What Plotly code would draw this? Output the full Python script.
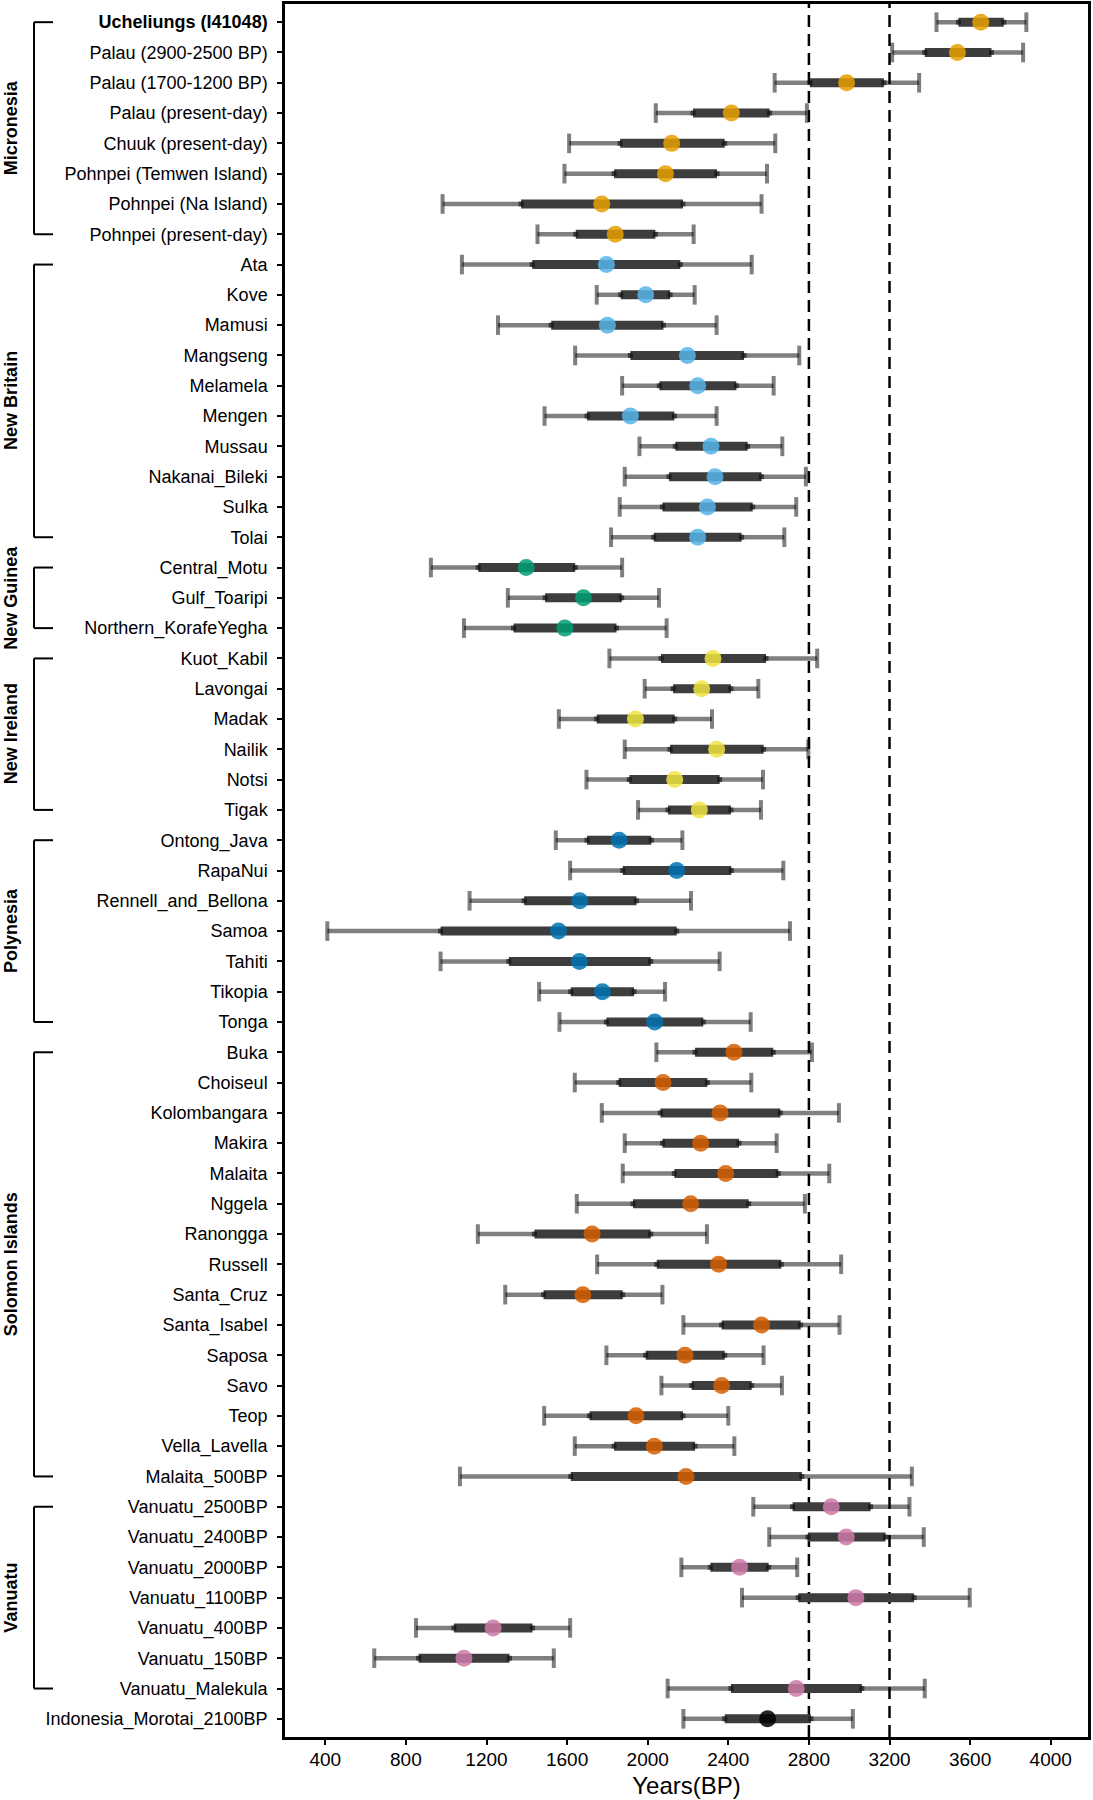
import plotly.graph_objects as go

# ---------------- data ----------------
populations = [
    "Ucheliungs (I41048)", "Palau (2900-2500 BP)", "Palau (1700-1200 BP)", "Palau (present-day)",
    "Chuuk (present-day)", "Pohnpei (Temwen Island)", "Pohnpei (Na Island)", "Pohnpei (present-day)",
    "Ata", "Kove", "Mamusi", "Mangseng", "Melamela", "Mengen", "Mussau", "Nakanai_Bileki", "Sulka", "Tolai",
    "Central_Motu", "Gulf_Toaripi", "Northern_KorafeYegha",
    "Kuot_Kabil", "Lavongai", "Madak", "Nailik", "Notsi", "Tigak",
    "Ontong_Java", "RapaNui", "Rennell_and_Bellona", "Samoa", "Tahiti", "Tikopia", "Tonga",
    "Buka", "Choiseul", "Kolombangara", "Makira", "Malaita", "Nggela", "Ranongga", "Russell",
    "Santa_Cruz", "Santa_Isabel", "Saposa", "Savo", "Teop", "Vella_Lavella", "Malaita_500BP",
    "Vanuatu_2500BP", "Vanuatu_2400BP", "Vanuatu_2000BP", "Vanuatu_1100BP", "Vanuatu_400BP",
    "Vanuatu_150BP", "Vanuatu_Malekula",
    "Indonesia_Morotai_2100BP",
]

whisker_lo = [3433, 3213, 2630, 2040, 1610, 1587, 982, 1453,
              1078, 1747, 1257, 1640, 1873, 1488, 1959, 1886, 1861, 1818,
              924, 1306, 1088,
              1810, 1985, 1559, 1886, 1696, 1952,
              1544, 1615, 1116, 410, 972, 1461, 1562,
              2043, 1638, 1772, 1886, 1876, 1648, 1157, 1749, 1293, 2177, 1795, 2068, 1486, 1638, 1068,
              2524, 2603, 2167, 2468, 850, 643, 2099,
              2177]
inner_lo = [3542, 3375, 2805, 2225, 1863, 1833, 1372, 1643,
            1427, 1866, 1521, 1914, 2058, 1699, 2137, 2106, 2073, 2030,
            1159, 1491, 1334,
            2066, 2126, 1747, 2111, 1909, 2101,
            1699, 1876, 1387, 972, 1311, 1618, 1795,
            2235, 1856, 2063, 2073, 2132, 1927, 1438, 2045, 1483, 2367, 1990, 2218, 1711, 1833, 1618,
            2719, 2795, 2311, 2747, 1038, 863, 2413,
            2382]
estimate = [3653, 3537, 2987, 2415, 2119, 2088, 1772, 1839,
            1795, 1990, 1800, 2197, 2248, 1914, 2314, 2334, 2296, 2248,
            1397, 1681, 1589,
            2324, 2268, 1939, 2342, 2134, 2256,
            1858, 2144, 1663, 1557, 1661, 1775, 2035,
            2428, 2076, 2359, 2263, 2387, 2213, 1724, 2352, 1678, 2565, 2185, 2367, 1942, 2033, 2190,
            2911, 2985, 2456, 3033, 1233, 1088, 2737,
            2595]
inner_hi = [3767, 3706, 3172, 2605, 2382, 2344, 2175, 2038,
            2162, 2111, 2078, 2478, 2440, 2132, 2496, 2565, 2521, 2466,
            1640, 1871, 1845,
            2587, 2413, 2134, 2575, 2357, 2413,
            2018, 2415, 1944, 2144, 2015, 1932, 2276,
            2623, 2296, 2658, 2453, 2648, 2501, 2015, 2663, 1876, 2759, 2382, 2516, 2175, 2235, 2765,
            3106, 3180, 2600, 3322, 1428, 1314, 3063,
            2810]
whisker_hi = [3879, 3863, 3347, 2790, 2633, 2592, 2565, 2228,
              2516, 2233, 2342, 2752, 2625, 2342, 2668, 2785, 2737, 2678,
              1873, 2056, 2094,
              2841, 2549, 2319, 2797, 2572, 2562,
              2172, 2673, 2215, 2706, 2357, 2086, 2511,
              2815, 2514, 2949, 2640, 2901, 2780, 2294, 2960, 2073, 2952, 2575, 2666, 2400, 2430, 3311,
              3299, 3370, 2742, 3598, 1615, 1534, 3375,
              3018]

region_names = ["Micronesia", "New Britain", "New Guinea", "New Ireland",
                "Polynesia", "Solomon Islands", "Vanuatu"]
region_sizes = [8, 10, 3, 6, 7, 15, 7]
region_colors = ["#E69F00", "#56B4E9", "#009E73", "#F0E442",
                 "#0072B2", "#D55E00", "#CC79A7"]
outgroup_color = "#000000"

x_ticks = [400, 800, 1200, 1600, 2000, 2400, 2800, 3200, 3600, 4000]
ref_lines = [2800, 3200]
x_title = "Years(BP)"

# ---------------- derived ----------------
row_colors = []
for c, n in zip(region_colors, region_sizes):
    row_colors += [c] * n
row_colors += [outgroup_color] * (len(populations) - len(row_colors))


def segments(a, b):
    xs, ys = [], []
    for p, lo, hi in zip(populations, a, b):
        xs += [lo, hi, None]
        ys += [p, p, None]
    return xs, ys


FONT = "Liberation Sans, Arial, Helvetica, sans-serif"

fig = go.Figure()

ox, oy = segments(whisker_lo, whisker_hi)
fig.add_trace(go.Scatter(x=ox, y=oy, mode="lines",
                         line=dict(color="rgba(0,0,0,0.5)", width=4.5),
                         hoverinfo="skip"))
fig.add_trace(go.Scatter(x=whisker_lo + whisker_hi, y=populations + populations,
                         mode="markers",
                         marker=dict(symbol="line-ns", size=14,
                                     line=dict(color="rgba(0,0,0,0.5)", width=4)),
                         hoverinfo="skip"))
ix, iy = segments(inner_lo, inner_hi)
fig.add_trace(go.Scatter(x=ix, y=iy, mode="lines",
                         line=dict(color="#3d3d3d", width=9),
                         hoverinfo="skip"))
fig.add_trace(go.Scatter(x=inner_lo + inner_hi, y=populations + populations,
                         mode="markers",
                         marker=dict(symbol="square", size=5, color="rgba(0,0,0,0.55)",
                                     line=dict(width=0)),
                         hoverinfo="skip"))
fig.add_trace(go.Scatter(x=estimate, y=populations, mode="markers",
                         marker=dict(symbol="circle", size=17, color=row_colors,
                                     opacity=0.85, line=dict(width=0)),
                         hoverinfo="skip"))

for v in ref_lines:
    fig.add_shape(type="line", xref="x", yref="paper", x0=v, x1=v, y0=0, y1=1,
                  line=dict(color="black", width=2.5, dash="12px,7px"), layer="below")

# region brackets and labels
plot_left, plot_w = 285, 803
bx = (34 - plot_left) / plot_w
bx2 = (53 - plot_left) / plot_w
lx = (11 - plot_left) / plot_w
start = 0
for name, n in zip(region_names, region_sizes):
    first, last = populations[start], populations[start + n - 1]
    line = dict(color="black", width=2)
    fig.add_shape(type="line", xref="paper", yref="y", x0=bx, x1=bx, y0=first, y1=last, line=line)
    fig.add_shape(type="line", xref="paper", yref="y", x0=bx, x1=bx2, y0=first, y1=first, line=line)
    fig.add_shape(type="line", xref="paper", yref="y", x0=bx, x1=bx2, y0=last, y1=last, line=line)
    fig.add_annotation(xref="paper", yref="y", x=lx, y=start + (n - 1) / 2,
                       text="<b>%s</b>" % name, textangle=-90, showarrow=False,
                       xanchor="center", yanchor="middle",
                       font=dict(family=FONT, size=18, color="black"))
    start += n

ticktext = ["<b>%s</b>" % populations[0]] + populations[1:]

fig.update_layout(
    width=1093, height=1800,
    margin=dict(l=285, r=5, t=4, b=63),
    paper_bgcolor="white", plot_bgcolor="white",
    showlegend=False,
    font=dict(family=FONT, color="black"),
    xaxis=dict(range=[200, 4185], tickvals=x_ticks, ticks="outside", ticklen=5,
               tickwidth=2, tickcolor="black", showline=True, linewidth=2.5,
               linecolor="black", mirror=True, showgrid=False, zeroline=False,
               tickfont=dict(family=FONT, size=19, color="black"),
               ticklabelstandoff=-2,
               title=dict(text=x_title, font=dict(family=FONT, size=24, color="black"),
                          standoff=9),
               automargin=False),
    yaxis=dict(type="category", categoryorder="array", categoryarray=populations,
               range=[len(populations) - 0.4, -0.6],
               tickvals=populations, ticktext=ticktext, ticks="outside", ticklen=5,
               tickwidth=2, tickcolor="black", showline=True, linewidth=2.5,
               linecolor="black", mirror=True, showgrid=False, zeroline=False,
               tickfont=dict(family=FONT, size=18, color="black"),
               ticklabelstandoff=6, automargin=False),
)

fig.write_html("out.html")
